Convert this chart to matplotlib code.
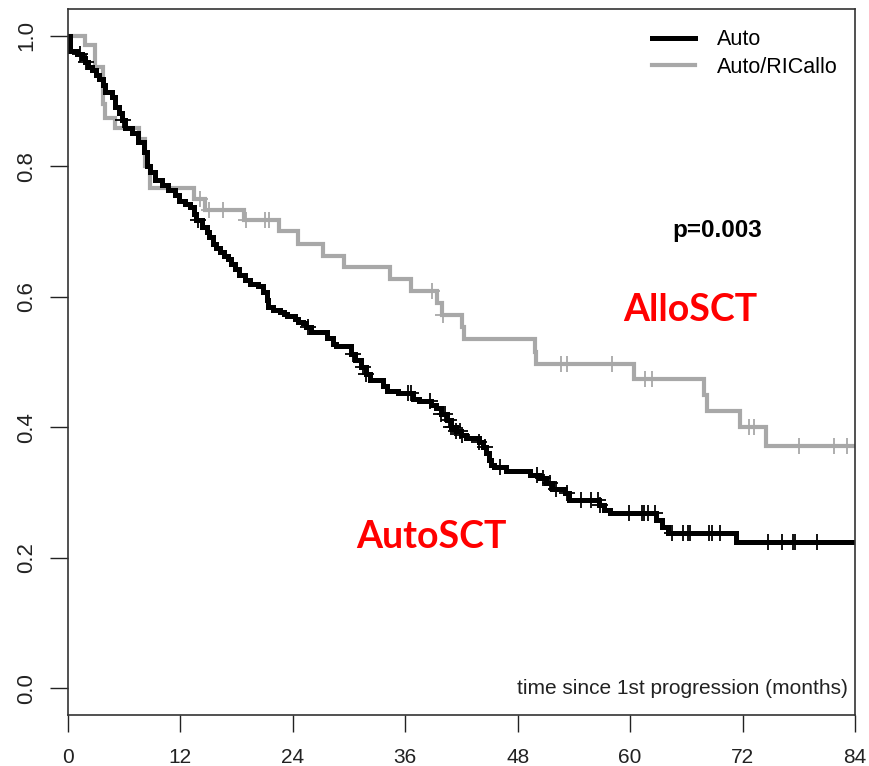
import matplotlib
matplotlib.use("Agg")
import matplotlib.pyplot as plt
import numpy as np

# Auto arm (black) - time of each drop and survival after it
auto_time = [0, 0.2, 1.0, 1.5, 1.8, 2.1, 2.6, 3.0, 3.3, 3.7, 4.0, 4.7, 5.0, 5.4, 5.8,
             6.1, 6.8, 7.5, 8.1, 8.4, 8.8, 9.3, 10.0, 10.7, 11.4, 11.9, 12.5, 13.0,
             13.4, 13.7, 14.25, 14.8, 15.1, 15.5, 15.85, 16.2, 16.6, 17.1, 17.4, 17.8,
             18.3, 18.9, 19.4, 20.3, 20.8, 21.2, 21.4, 21.9, 22.6, 23.1, 23.4, 24.2,
             24.5, 25.1, 25.4, 25.9, 27.6, 28.3, 28.6, 30.2, 30.6, 31.3, 31.8, 32.2,
             33.6, 34.1, 35.2, 36.8, 37.5, 38.7, 39.3, 39.8, 40.4, 40.9, 41.4, 41.9,
             42.5, 43.9, 44.3, 44.6, 44.9, 45.2, 45.5, 46.8, 49.3, 50.3, 51.0, 51.7,
             53.0, 53.5, 56.7, 57.2, 57.8, 62.8, 63.4, 64.0, 71.3]
auto_surv = [1.0, 0.976, 0.972, 0.965, 0.960, 0.952, 0.947, 0.939, 0.934, 0.924, 0.914,
             0.906, 0.891, 0.881, 0.870, 0.858, 0.850, 0.837, 0.822, 0.800, 0.791, 0.778,
             0.771, 0.763, 0.756, 0.747, 0.742, 0.737, 0.727, 0.717, 0.707, 0.699, 0.691,
             0.681, 0.674, 0.668, 0.663, 0.658, 0.650, 0.643, 0.633, 0.625, 0.620, 0.617,
             0.607, 0.595, 0.584, 0.579, 0.577, 0.574, 0.570, 0.566, 0.562, 0.559, 0.554,
             0.546, 0.536, 0.528, 0.524, 0.513, 0.503, 0.492, 0.482, 0.473, 0.464, 0.456,
             0.453, 0.444, 0.441, 0.434, 0.429, 0.421, 0.411, 0.401, 0.394, 0.388, 0.384,
             0.378, 0.370, 0.360, 0.350, 0.342, 0.339, 0.333, 0.327, 0.322, 0.314, 0.306,
             0.299, 0.288, 0.281, 0.273, 0.268, 0.258, 0.248, 0.238, 0.225]
auto_cens = [1.3, 1.9, 5.9, 13.9, 25.6, 30.4, 31.5, 31.8, 36.3, 36.6, 38.6, 39.8, 40.2,
             40.7, 40.9, 41.1, 41.4, 41.8, 42.1, 43.9, 44.5, 46.1, 50.1, 50.7, 51.4, 52.1,
             53.3, 54.8, 55.8, 56.6, 56.8, 59.9, 61.3, 61.5, 61.9, 62.7, 64.5, 65.6, 66.2,
             66.4, 68.4, 68.7, 69.6, 74.7, 76.2, 77.4, 77.6, 79.9]

# Auto/RICallo arm (grey)
allo_time = [0, 1.8, 2.9, 3.7, 3.9, 5.0, 7.6, 8.2, 8.8, 13.4, 14.6, 18.8, 22.5, 24.5,
             27.2, 29.5, 34.4, 36.6, 39.4, 39.9, 42.0, 42.3, 49.8, 50.0, 60.4, 67.9,
             68.2, 71.7, 74.5]
allo_surv = [1.0, 0.985, 0.952, 0.895, 0.873, 0.858, 0.842, 0.800, 0.766, 0.750, 0.733,
             0.717, 0.700, 0.681, 0.663, 0.645, 0.627, 0.609, 0.590, 0.572, 0.553, 0.535,
             0.516, 0.497, 0.474, 0.450, 0.425, 0.400, 0.371]
allo_cens = [14.1, 15.1, 16.5, 19.0, 21.0, 21.5, 38.9, 40.0, 52.6, 53.3, 58.1, 61.6, 62.3,
             72.7, 73.2, 78.0, 81.8, 83.1]

x_ticks = [0, 12, 24, 36, 48, 60, 72, 84]
y_ticks = [0.0, 0.2, 0.4, 0.6, 0.8, 1.0]

plt.rcParams['font.family'] = ['Liberation Sans', 'DejaVu Sans']

fig = plt.figure(figsize=(8.69, 7.66), dpi=100)
ax = fig.add_axes([68 / 869, 1 - 714.6 / 766, 787 / 869, 705.2 / 766])


def km(ax, t, s, cens, color, lw, label):
    t = np.append(t, 84)
    s = np.append(s, s[-1])
    ax.step(t, s, where='post', color=color, lw=lw, label=label, solid_joinstyle='miter')
    idx = np.searchsorted(t, cens, side='right') - 1
    ax.plot(cens, s[idx], ls='none', marker='+', ms=11, mew=1.3, color=color)


km(ax, allo_time, allo_surv, allo_cens, '#a8a8a8', 3.0, 'Auto/RICallo')
km(ax, auto_time, auto_surv, auto_cens, 'black', 3.6, 'Auto')

ax.set_xlim(0, 84)
ax.set_ylim(-0.04, 1.04)
ax.set_xticks(x_ticks)
ax.set_xticklabels([str(v) for v in x_ticks], fontsize=15)
ax.set_yticks(y_ticks)
ax.set_yticklabels(['%.1f' % v for v in y_ticks], fontsize=16, rotation=90, va='center')
ax.tick_params(axis='x', length=12, width=1, pad=12, colors='#222222')
ax.tick_params(axis='y', length=13, width=1, pad=9, colors='#222222')
for sp in ax.spines.values():
    sp.set_color('#333333')
    sp.set_linewidth(1.2)

handles, labels = ax.get_legend_handles_labels()
ax.legend(handles[::-1], labels[::-1], loc='upper right', frameon=False, fontsize=15.5,
          handlelength=2.0, handletextpad=1.0, labelspacing=0.3,
          bbox_to_anchor=(0.997, 0.993), borderaxespad=0.3)

ax.text(83.2, 0.0, 'time since 1st progression (months)', ha='right', va='center',
        fontsize=15, color='#222222')
ax.text(69.3, 0.702, 'p=0.003', ha='center', va='center', fontsize=17.5,
        fontweight='bold')
ax.text(66.4, 0.579, 'AlloSCT', ha='center', va='center', fontsize=27,
        fontweight='bold', color='#ff0000', family='Lato')
ax.text(38.8, 0.232, 'AutoSCT', ha='center', va='center', fontsize=27,
        fontweight='bold', color='#ff0000', family='Lato')

fig.savefig('out.png', dpi=100)
